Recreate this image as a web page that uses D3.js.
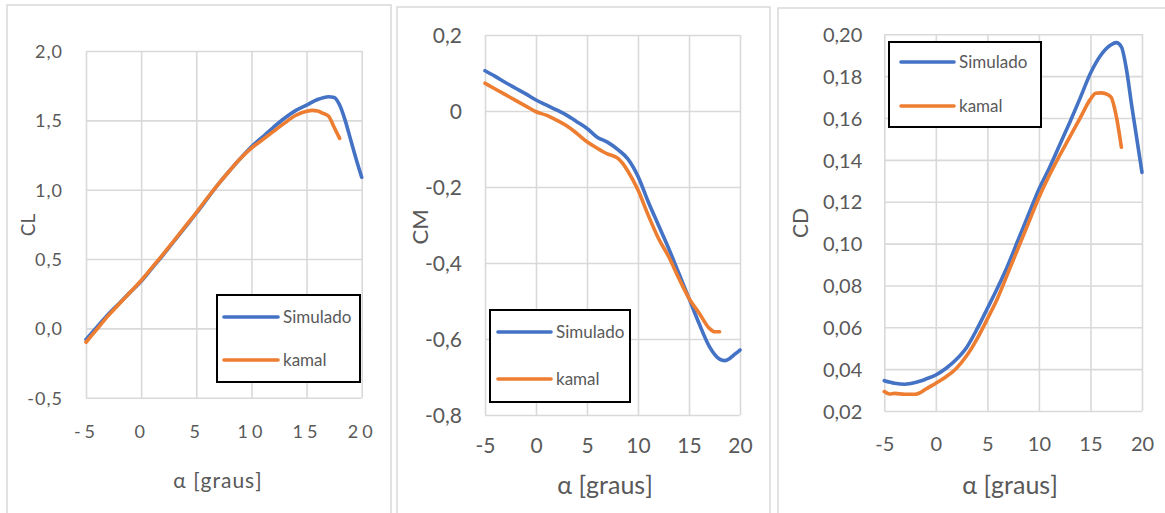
<!DOCTYPE html>
<html>
<head>
<meta charset="utf-8">
<script src="https://cdn.jsdelivr.net/npm/d3@7"></script>
<style>
  body { margin: 0; background: #fff; }
  svg { display: block; }
  text { font-family: Lato, "Open Sans", sans-serif; fill: #595959; }
</style>
</head>
<body>
<svg id="chart" width="1165" height="513"></svg>
<script>
// ---- data ----
const xTicks = [-5, 0, 5, 10, 15, 20]

// CL panel
const clTicks = [-0.5, 0, 0.5, 1.0, 1.5, 2.0]
const clAlphaSim = [-5, -4, -3, -2, -1, 0, 1, 2, 3, 4, 5, 6, 7, 8, 9, 10, 11, 12, 13, 14, 15, 16, 17, 17.5, 18, 18.5, 19, 19.5, 20]
const clSim = [-0.08, 0.01, 0.10, 0.18, 0.26, 0.34, 0.435, 0.53, 0.63, 0.73, 0.83, 0.935, 1.04, 1.135, 1.225, 1.31, 1.38, 1.45, 1.515, 1.57, 1.61, 1.65, 1.67, 1.665, 1.61, 1.50, 1.36, 1.22, 1.09]
const clAlphaKamal = [-5, -4, -3, -2, -1, 0, 1, 2, 3, 4, 5, 6, 7, 8, 9, 10, 11, 12, 13, 14, 15, 15.5, 16, 16.5, 17, 17.5, 18]
const clKamal = [-0.10, -0.005, 0.09, 0.175, 0.26, 0.345, 0.44, 0.535, 0.635, 0.735, 0.835, 0.94, 1.04, 1.135, 1.225, 1.30, 1.36, 1.42, 1.48, 1.535, 1.565, 1.572, 1.568, 1.55, 1.53, 1.45, 1.37]

// CM panel
const cmTicks = [-0.8, -0.6, -0.4, -0.2, 0, 0.2]
const cmAlphaSim = [-5, -4, -3, -2, -1, 0, 1, 2, 3, 4, 5, 6, 7, 8, 9, 10, 11, 12, 13, 14, 15, 16, 17, 18, 18.5, 19, 19.5, 20]
const cmSim = [0.106, 0.091, 0.075, 0.060, 0.045, 0.029, 0.016, 0.003, -0.011, -0.028, -0.046, -0.069, -0.082, -0.101, -0.126, -0.172, -0.239, -0.300, -0.361, -0.427, -0.493, -0.560, -0.620, -0.653, -0.657, -0.651, -0.640, -0.629]
const cmAlphaKamal = [-5, -4, -3, -2, -1, 0, 1, 2, 3, 4, 5, 6, 7, 8, 8.5, 9, 10, 11, 12, 13, 14, 15, 16, 17, 17.5, 18]
const cmKamal = [0.073, 0.058, 0.043, 0.028, 0.013, -0.002, -0.011, -0.024, -0.039, -0.059, -0.081, -0.098, -0.113, -0.124, -0.138, -0.158, -0.208, -0.274, -0.335, -0.383, -0.440, -0.493, -0.532, -0.572, -0.581, -0.581]

// CD panel
const cdTicks = [0.02, 0.04, 0.06, 0.08, 0.10, 0.12, 0.14, 0.16, 0.18, 0.20]
const cdAlphaSim = [-5, -4, -3, -2, -1, 0, 1, 2, 3, 4, 5, 6, 7, 8, 9, 10, 11, 12, 13, 14, 15, 16, 17, 17.5, 18, 18.5, 19, 19.5, 20]
const cdSim = [0.0345, 0.0333, 0.0328, 0.0336, 0.0352, 0.0372, 0.0404, 0.0447, 0.0505, 0.0592, 0.069, 0.079, 0.0898, 0.102, 0.114, 0.126, 0.136, 0.147, 0.158, 0.1695, 0.1814, 0.190, 0.195, 0.196, 0.194, 0.183, 0.166, 0.150, 0.134]
const cdAlphaKamal = [-5, -4.5, -4, -3, -2, -1.5, -1, 0, 1, 2, 3, 4, 5, 6, 7, 8, 9, 10, 11, 12, 13, 14, 15, 15.5, 16, 16.5, 17, 17.5, 18]
const cdKamal = [0.0293, 0.0281, 0.0284, 0.028, 0.028, 0.0288, 0.0304, 0.0333, 0.0364, 0.0404, 0.0465, 0.0545, 0.064, 0.074, 0.086, 0.098, 0.110, 0.122, 0.1325, 0.142, 0.151, 0.160, 0.169, 0.1718, 0.172, 0.1716, 0.170, 0.161, 0.146]

const seriesNames = ["Simulado", "kamal"]
const seriesColors = ["#4472C4", "#ED7D31"]

// Excel style number format: comma decimal, plain hyphen minus
const locale = d3.formatLocale({decimal: ",", thousands: ".", grouping: [3], currency: ["", ""], minus: "-"})

const svg = d3.select("#chart")
svg.append("rect").attr("width", 1165).attr("height", 513).attr("fill", "#fff")

function drawPanel(p) {
    // panel frame
    svg.append("rect")
        .attr("x", p.frame[0]).attr("y", p.frame[1])
        .attr("width", p.frame[2]).attr("height", 600)
        .attr("fill", "none").attr("stroke", "#D9D9D9").attr("stroke-width", 1.5)

    const [x0, y0, x1, y1] = p.plot
    const x = d3.scaleLinear().domain([-5, 20]).range([x0, x1])
    const y = d3.scaleLinear().domain(p.yDomain).range([y1, y0])

    // horizontal grid + y tick labels
    const yAxis = svg.append("g")
        .attr("transform", `translate(${x0},0)`)
        .call(d3.axisLeft(y).tickValues(p.yTicks).tickSize(-(x1 - x0)).tickPadding(p.yPad).tickFormat(p.yFmt))
    // vertical grid + x tick labels
    const xAxis = svg.append("g")
        .attr("transform", `translate(0,${y1})`)
        .call(d3.axisBottom(x).tickValues(xTicks).tickSize(-(y1 - y0)).tickPadding(0).tickFormat(locale.format("d")))

    for (const g of [xAxis, yAxis]) {
        g.select(".domain").remove()
        g.selectAll("line").attr("stroke", "#D9D9D9").attr("stroke-width", 1.6)
        g.selectAll("text").attr("font-size", p.tickSize).attr("fill", "#595959")
            .style("font-family", "Lato, 'Open Sans', sans-serif")
    }
    yAxis.selectAll("text").attr("dy", p.yDy).attr("letter-spacing", p.ySpacing)
    xAxis.selectAll("text").attr("y", p.xLabelY - y1).attr("dy", 0).attr("letter-spacing", p.xSpacing)

    // axis titles
    svg.append("text")
        .attr("transform", `translate(${p.yTitle[0]},${p.yTitle[1]}) rotate(-90)`)
        .attr("text-anchor", "middle").attr("dy", "0.35em")
        .attr("font-size", p.yTitleSize)
        .text(p.yLabel)
    svg.append("text")
        .attr("x", p.xTitle[0]).attr("y", p.xTitle[1])
        .attr("text-anchor", "middle")
        .attr("font-size", p.xTitleSize).attr("letter-spacing", p.xTitleSpacing)
        .text("α [graus]")

    // curves
    const line = d3.line()
        .x(d => x(d[0]))
        .y(d => y(d[1]))
        .curve(d3.curveMonotoneX)
    p.series.forEach((s, i) => {
        svg.append("path")
            .datum(d3.zip(s[0], s[1]))
            .attr("fill", "none")
            .attr("stroke", seriesColors[i])
            .attr("stroke-width", 3.6)
            .attr("stroke-linejoin", "round")
            .attr("stroke-linecap", "round")
            .attr("d", line)
    })

    // legend
    const [lx, ly, lw, lh] = p.legend
    const lg = svg.append("g")
    lg.append("rect")
        .attr("x", lx).attr("y", ly).attr("width", lw).attr("height", lh)
        .attr("fill", "#fff").attr("stroke", "#000").attr("stroke-width", 2)
    seriesNames.forEach((name, i) => {
        const yy = p.legendRows[i]
        lg.append("line")
            .attr("x1", p.legendLine[0]).attr("x2", p.legendLine[1])
            .attr("y1", yy).attr("y2", yy)
            .attr("stroke", seriesColors[i]).attr("stroke-width", 3.6)
            .attr("stroke-linecap", "round")
        lg.append("text")
            .attr("x", p.legendLine[1] + 5).attr("y", yy + 6)
            .attr("font-size", 17)
            .text(name)
    })
}

drawPanel({
    frame: [7, 5, 384],
    plot: [86, 51, 361.7, 397.7],
    yDomain: [-0.5, 2.0],
    yTicks: clTicks,
    yFmt: locale.format(".1f"),
    yPad: 23, yDy: "0.36em", ySpacing: 1,
    xLabelY: 438, xSpacing: 4,
    tickSize: 18,
    yLabel: "CL", yTitle: [28, 225], yTitleSize: 19,
    xTitle: [218, 488], xTitleSize: 21, xTitleSpacing: 1,
    series: [[clAlphaSim, clSim], [clAlphaKamal, clKamal]],
    legend: [217, 295, 143, 87],
    legendLine: [224, 278],
    legendRows: [317, 360]
})

drawPanel({
    frame: [397, 7, 373],
    plot: [485, 35, 740, 415],
    yDomain: [-0.8, 0.2],
    yTicks: cmTicks,
    yFmt: locale.format(".1~f"),
    yPad: 23, yDy: "0.36em", ySpacing: 0,
    xLabelY: 453, xSpacing: 0,
    tickSize: 21,
    yLabel: "CM", yTitle: [420, 227], yTitleSize: 22,
    xTitle: [605, 494], xTitleSize: 25, xTitleSpacing: 0,
    series: [[cmAlphaSim, cmSim], [cmAlphaKamal, cmKamal]],
    legend: [490, 310, 140, 92],
    legendLine: [498, 551],
    legendRows: [332, 379]
})

drawPanel({
    frame: [778, 8, 420],
    plot: [884.3, 34.3, 1142, 411],
    yDomain: [0.02, 0.20],
    yTicks: cdTicks,
    yFmt: locale.format(".2f"),
    yPad: 22, yDy: "0.36em", ySpacing: 0,
    xLabelY: 451, xSpacing: 0,
    tickSize: 20,
    yLabel: "CD", yTitle: [801, 223], yTitleSize: 21,
    xTitle: [1010, 494], xTitleSize: 25, xTitleSpacing: 0,
    series: [[cdAlphaSim, cdSim], [cdAlphaKamal, cdKamal]],
    legend: [889, 42, 152, 85],
    legendLine: [901, 954],
    legendRows: [62, 106]
})
</script>
</body>
</html>
